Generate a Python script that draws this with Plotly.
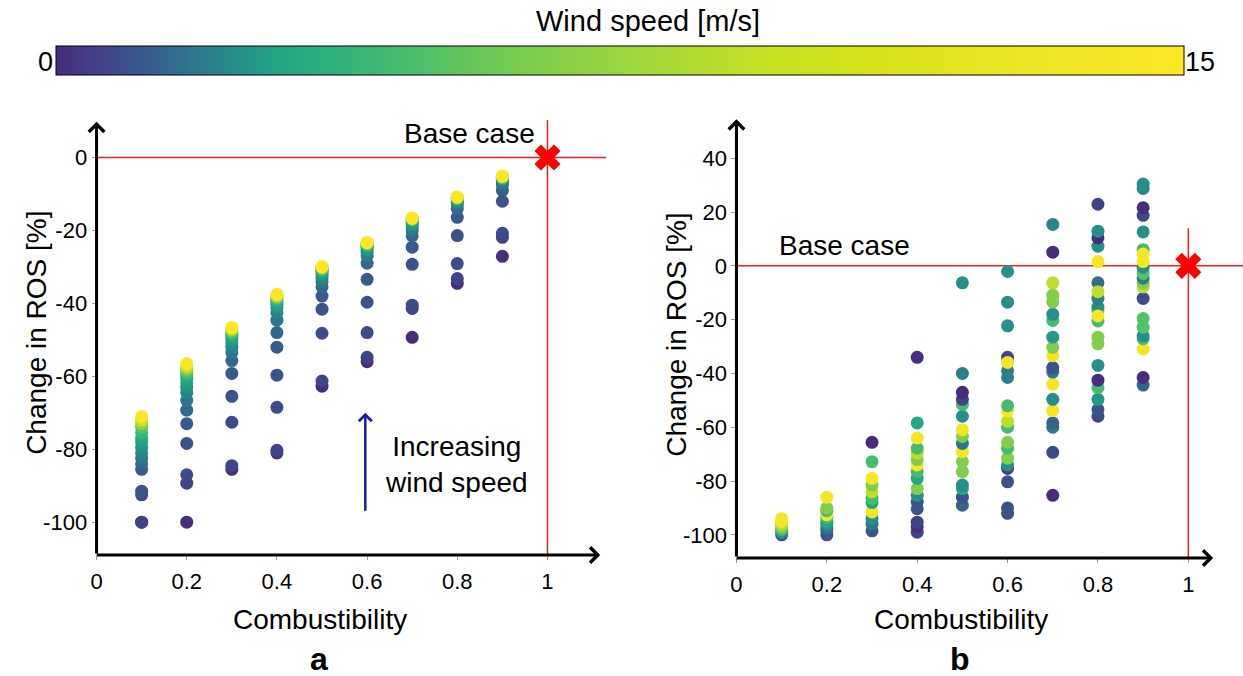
import plotly.graph_objects as go

# ---------------- data ----------------
COMB = [0.1, 0.2, 0.3, 0.4, 0.5, 0.6, 0.7, 0.8, 0.9]
X_TICKS = [0, 0.2, 0.4, 0.6, 0.8, 1]
X_TICK_LABELS = ["0", "0.2", "0.4", "0.6", "0.8", "1"]
YA_TICKS = [-100, -80, -60, -40, -20, 0]
YA_TICK_LABELS = ["-100", "-80", "-60", "-40", "-20", "0"]
YB_TICKS = [-100, -80, -60, -40, -20, 0, 20, 40]
YB_TICK_LABELS = ["-100", "-80", "-60", "-40", "-20", "0", "20", "40"]
BASE_X = [1]
BASE_Y = [0]

# panel a: wind speeds common to every combustibility column
WIND_A = [0, 0.6, 0.8, 1.0, 1.2, 1.5, 1.8, 2.1, 2.4, 2.7, 3.0, 4.0, 5.0, 7.0, 10.0, 15.0]
ROS_A_01 = [-100, -100, -92.5, -91.5, -85.5, -84, -82.5, -81, -79.5, -78, -77, -75.5, -74, -73, -72, -71]
ROS_A_02 = [-100, -89.3, -87, -78.4, -73, -69.3, -66.6, -64.5, -63, -61.8, -60.5, -59.5, -58.7, -58, -57.3, -56.5]
ROS_A_03 = [-85.5, -84.5, -72.6, -65.5, -59.2, -55.7, -53.5, -52, -50.8, -49.8, -49, -48.3, -47.8, -47.3, -47, -46.6]
ROS_A_04 = [-81, -80.3, -68.5, -59.7, -52, -48, -44.6, -42.5, -41.3, -40.3, -39.5, -39, -38.5, -38.2, -37.8, -37.5]
ROS_A_05 = [-62.7, -61.3, -48.2, -41.6, -38, -35.5, -34, -33, -32.3, -31.7, -31.2, -30.8, -30.5, -30.3, -30.1, -29.9]
ROS_A_06 = [-56, -54.8, -48, -39.7, -33.4, -29, -27, -26, -25.2, -24.6, -24.2, -23.9, -23.7, -23.5, -23.4, -23.3]
ROS_A_07 = [-49.3, -41.4, -40.5, -29.3, -24.6, -21.5, -20, -19, -18.3, -17.8, -17.4, -17.1, -16.9, -16.8, -16.7, -16.6]
ROS_A_08 = [-34.5, -33.2, -29.1, -21.4, -16.4, -14, -13, -12.3, -11.9, -11.6, -11.4, -11.2, -11.1, -11, -10.9, -10.8]
ROS_A_09 = [-27.1, -21.9, -20.8, -12, -9, -7.5, -6.8, -6.3, -6, -5.8, -5.6, -5.5, -5.4, -5.3, -5.2, -5.1]
ROS_A = [ROS_A_01, ROS_A_02, ROS_A_03, ROS_A_04, ROS_A_05, ROS_A_06, ROS_A_07, ROS_A_08, ROS_A_09]

# panel b: each column has its own set of (change in ROS, wind speed) values
ROS_B_01 = [-100, -99, -98, -97, -96, -95, -94]
WIND_B_01 = [1.0, 2.4, 4.5, 6.5, 9, 14, 14]
ROS_B_02 = [-100, -98.5, -97.5, -96, -95, -93.5, -92.5, -91, -90, -86]
WIND_B_02 = [1.0, 1.0, 1.8, 2.4, 3, 4.5, 14, 4.5, 6.5, 14]
ROS_B_03 = [-98.5, -96, -94, -91.5, -88, -86.5, -84, -81.5, -79, -72.8, -65.6]
WIND_B_03 = [1.0, 1.8, 2.4, 14, 3, 4.5, 9, 6.5, 14, 4.5, 0]
ROS_B_04 = [-99, -97, -95.3, -90.3, -87.8, -85.3, -82.8, -79, -76.5, -74, -72, -69.6, -67.8, -64, -58.4, -34]
WIND_B_04 = [0.6, 0, 0.6, 1.0, 1.0, 2.4, 6.5, 3, 4.5, 14, 6.5, 9, 4.5, 14, 3, 0]
ROS_B_05 = [-89, -86, -82.8, -81.5, -76.5, -72.8, -69, -66, -63.4, -60.9, -55.9, -51.5, -49.6, -47, -40, -6.3]
WIND_B_05 = [1.4, 1.0, 3, 2.4, 6.5, 6.5, 14, 1.8, 6.5, 14, 2.4, 4.5, 0.6, 0, 2.0, 2.4]
ROS_B_06 = [-92, -90, -80.3, -75.3, -74, -71.5, -67.8, -65.6, -60, -57.8, -54, -52, -41.5, -39, -34, -35.9, -22.3, -13.5, -2.1]
WIND_B_06 = [1.0, 1.0, 1.0, 0.6, 2.4, 6.5, 4.5, 6.5, 4.5, 9, 14, 4.5, 2.0, 2.0, 0.6, 14, 2.4, 2.4, 2.4]
ROS_B_07 = [-85.3, -69.3, -60, -58.4, -53.8, -49.6, -44, -39.5, -37.8, -33.4, -30.3, -26.5, -20.3, -18, -13.4, -10.9, -6.3, 5.1, 15.4]
WIND_B_07 = [0, 0.8, 1.8, 1.4, 14, 2.4, 14, 1.8, 1.0, 14, 6.5, 2.6, 4.5, 2.4, 6.5, 6.5, 9, 0, 2.2]
ROS_B_08 = [-55.9, -53.4, -49.6, -45.3, -42.5, -37, -29, -26.5, -20.5, -16.5, -15.3, -18.6, -6.3, -12.1, -9.6, 1.6, 7.3, 10.4, 12.9, 22.9]
WIND_B_08 = [0.8, 1.0, 2.6, 4.5, 0, 2.4, 6.5, 6.5, 4.5, 5, 2.4, 14, 1.6, 2.0, 9, 14, 2.4, 0, 2.4, 0.6]
ROS_B_09 = [-44.3, -41.5, -30.9, -27.1, -26, -22.8, -19.6, -12.1, -7.8, -6.5, -4.6, -2.8, -0.5, 6, 1.6, 4.4, 12.6, 18.8, 21.6, 28.8, 30.4]
WIND_B_09 = [1.4, 0, 14, 4.5, 2.4, 5, 5, 0.8, 9, 6.5, 2.0, 5, 2.4, 4.5, 14, 14, 2.4, 0.8, 0, 2.2, 2.4]
ROS_B = [ROS_B_01, ROS_B_02, ROS_B_03, ROS_B_04, ROS_B_05, ROS_B_06, ROS_B_07, ROS_B_08, ROS_B_09]
WIND_B = [WIND_B_01, WIND_B_02, WIND_B_03, WIND_B_04, WIND_B_05, WIND_B_06, WIND_B_07, WIND_B_08, WIND_B_09]

WIND_MIN, WIND_MAX = 0, 15

# ---------------- styling ----------------
FONT = "Liberation Sans, Arial, sans-serif"
COLORSCALE = [
    [0.0, "#472d7b"], [0.03, "#443d88"], [0.06, "#3c4f8a"], [0.12, "#2e758e"],
    [0.19, "#21a285"], [0.25, "#30b27b"], [0.32, "#4cbf6b"], [0.38, "#6cc857"],
    [0.45, "#88d048"], [0.5, "#9bd63f"], [0.63, "#c6e023"], [0.73, "#d7e219"],
    [0.83, "#e8e523"], [1.0, "#fde725"],
]
W, H = 1243, 676


def px(x):
    return x / W


def py(y):
    return 1 - y / H


# flatten panel a, sorted by wind speed so the strongest winds are on top
pts_a = []
for c, col in zip(COMB, ROS_A):
    for w, v in zip(WIND_A, col):
        pts_a.append((w, c, v))
pts_a.sort(key=lambda t: t[0])

xb, yb, cb = [], [], []
for c, vals, winds in zip(COMB, ROS_B, WIND_B):
    for v, w in zip(vals, winds):
        xb.append(c)
        yb.append(v)
        cb.append(w)

fig = go.Figure()
fig.add_trace(go.Scatter(
    x=[p[1] for p in pts_a], y=[p[2] for p in pts_a], mode="markers",
    marker=dict(size=13, color=[p[0] for p in pts_a], coloraxis="coloraxis", line=dict(width=0)),
    xaxis="x", yaxis="y", showlegend=False, hoverinfo="skip"))
fig.add_trace(go.Scatter(
    x=xb, y=yb, mode="markers",
    marker=dict(size=13, color=cb, coloraxis="coloraxis", line=dict(width=0)),
    xaxis="x2", yaxis="y2", showlegend=False, hoverinfo="skip"))
for xa, ya in (("x", "y"), ("x2", "y2")):
    fig.add_trace(go.Scatter(
        x=BASE_X, y=BASE_Y, mode="markers",
        marker=dict(symbol="x", size=23, color="#ff0000", line=dict(width=0)),
        xaxis=xa, yaxis=ya, showlegend=False, hoverinfo="skip"))

# ranges
XA_RANGE = [0, 1.13]
YA_RANGE = [-109, 10.5]
XB_RANGE = [0, 1.121]
YB_RANGE = [-108.6, 55]

axis_common = dict(showgrid=False, zeroline=False, showline=False, ticks="outside",
                   ticklen=4, tickwidth=1, tickcolor="#999999",
                   tickfont=dict(family=FONT, size=22, color="black"))

fig.update_layout(
    width=W, height=H, margin=dict(l=0, r=0, t=0, b=0),
    paper_bgcolor="white", plot_bgcolor="white",
    font=dict(family=FONT, size=22, color="black"),
    xaxis=dict(domain=[px(91), px(603)], range=XA_RANGE, anchor="y",
               tickvals=X_TICKS, ticktext=X_TICK_LABELS, ticklabelstandoff=3, **axis_common),
    yaxis=dict(domain=[py(555), py(119.2)], range=YA_RANGE, anchor="x",
               tickvals=YA_TICKS, ticktext=YA_TICK_LABELS, **axis_common),
    xaxis2=dict(domain=[px(734), 1.0], range=XB_RANGE, anchor="y2",
                tickvals=X_TICKS, ticktext=X_TICK_LABELS, ticklabelstandoff=3, **axis_common),
    yaxis2=dict(domain=[py(558), py(117.9)], range=YB_RANGE, anchor="x2",
                tickvals=YB_TICKS, ticktext=YB_TICK_LABELS, **axis_common),
    coloraxis=dict(
        colorscale=COLORSCALE, cmin=WIND_MIN, cmax=WIND_MAX,
        colorbar=dict(orientation="h", x=px(616.5), xanchor="center", y=py(61.5), yanchor="middle",
                      len=(1183 - 50) / W, lenmode="fraction", thickness=29, thicknessmode="pixels",
                      outlinewidth=1, outlinecolor="black", showticklabels=False, ticks="",
                      xpad=0, ypad=0, title=dict(text="")),
    ),
)

red = dict(color="#ff1a1a", width=1.5)
fig.add_shape(type="line", xref="x", yref="y", x0=0, x1=XA_RANGE[1], y0=0, y1=0, line=red, layer="below")
fig.add_shape(type="line", xref="x", yref="y", x0=1, x1=1, y0=YA_RANGE[0], y1=10.3, line=red, layer="below")
fig.add_shape(type="line", xref="x2", yref="y2", x0=0, x1=XB_RANGE[1], y0=0, y1=0, line=red, layer="below")
fig.add_shape(type="line", xref="x2", yref="y2", x0=1, x1=1, y0=YB_RANGE[0], y1=14, line=red, layer="below")

ann = []


def arrow(xr, yr, x, y, ax, ay, color="black", width=3):
    return dict(xref=xr, yref=yr, axref=xr, ayref=yr, x=x, y=y, ax=ax, ay=ay, text="",
                showarrow=True, arrowhead=4, arrowsize=1, arrowwidth=width, arrowcolor=color,
                standoff=0, startstandoff=0)


ann.append(arrow("x", "y", 0, 9.8, 0, YA_RANGE[0]))
ann.append(arrow("x", "y", 1.117, YA_RANGE[0], -0.003, YA_RANGE[0]))
ann.append(arrow("x2", "y2", 0, 54.5, 0, YB_RANGE[0]))
ann.append(arrow("x2", "y2", 1.055, YB_RANGE[0], -0.003, YB_RANGE[0]))
ann.append(arrow("x", "y", 0.596, -70, 0.596, -97.3, color="#1c1ca8", width=2.5))

big = dict(family=FONT, size=28, color="black")
ann += [
    dict(xref="paper", yref="paper", x=px(645), y=py(21), text="Wind speed [m/s]", showarrow=False,
         font=dict(family=FONT, size=29, color="black"), xanchor="center", yanchor="middle"),
    dict(xref="paper", yref="paper", x=px(40), y=py(62), text="0", showarrow=False,
         font=dict(family=FONT, size=27, color="black"), xanchor="center", yanchor="middle"),
    dict(xref="paper", yref="paper", x=px(1200), y=py(62), text="15", showarrow=False,
         font=dict(family=FONT, size=27, color="black"), xanchor="center", yanchor="middle"),
    dict(xref="paper", yref="paper", x=px(30), y=py(333), text="Change in ROS [%]", showarrow=False,
         font=big, textangle=-90, xanchor="center", yanchor="middle"),
    dict(xref="paper", yref="paper", x=px(673), y=py(335), text="Change in ROS [%]", showarrow=False,
         font=big, textangle=-90, xanchor="center", yanchor="middle"),
    dict(xref="paper", yref="paper", x=px(316), y=py(619), text="Combustibility", showarrow=False,
         font=big, xanchor="center", yanchor="middle"),
    dict(xref="paper", yref="paper", x=px(960), y=py(619), text="Combustibility", showarrow=False,
         font=big, xanchor="center", yanchor="middle"),
    dict(xref="paper", yref="paper", x=px(315), y=py(659), text="<b>a</b>", showarrow=False,
         font=dict(family=FONT, size=32, color="black"), xanchor="center", yanchor="middle"),
    dict(xref="paper", yref="paper", x=px(959), y=py(659), text="<b>b</b>", showarrow=False,
         font=dict(family=FONT, size=32, color="black"), xanchor="center", yanchor="middle"),
    dict(xref="x", yref="y", x=0.976, y=6.6, text="Base case", showarrow=False,
         font=big, xanchor="right", yanchor="middle"),
    dict(xref="x2", yref="y2", x=0.09, y=7.4, text="Base case", showarrow=False,
         font=big, xanchor="left", yanchor="middle"),
    dict(xref="x", yref="y", x=0.799, y=-84.2, text="Increasing<br>wind speed", showarrow=False,
         font=big, xanchor="center", yanchor="middle", align="center"),
]
fig.update_layout(annotations=ann)

fig.write_html("out.html", config={"displayModeBar": False},
               post_script="document.body.style.margin='0';document.body.style.overflow='hidden';")
